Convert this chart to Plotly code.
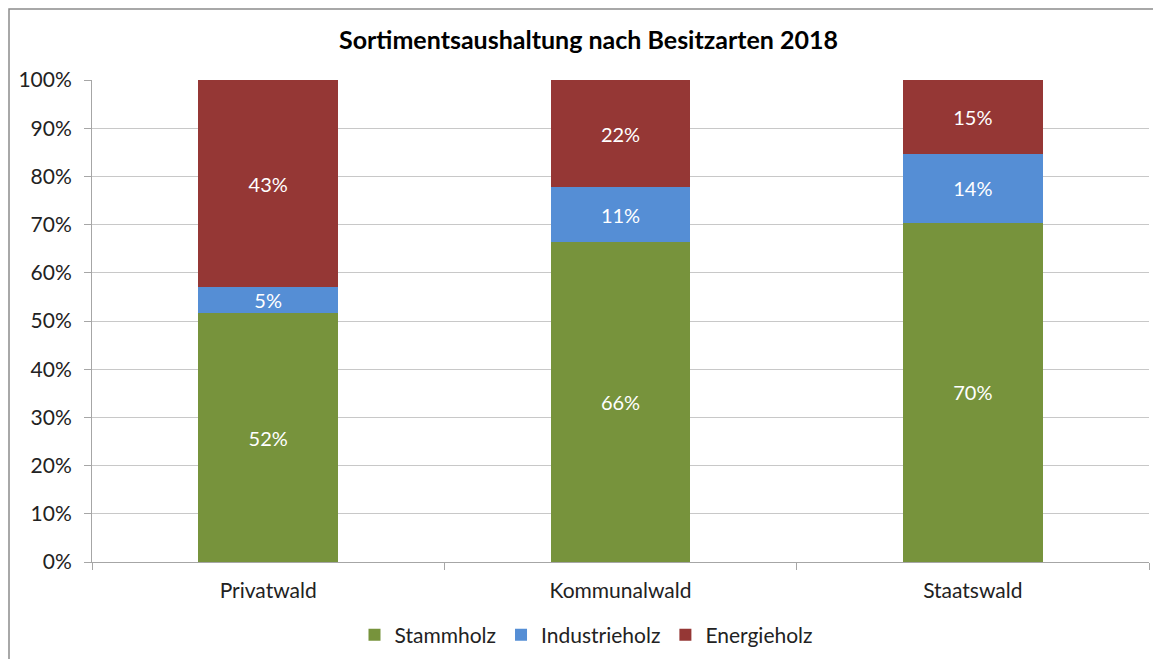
import plotly.graph_objects as go

categories = ["Privatwald", "Kommunalwald", "Staatswald"]
stammholz = [51.6, 66.3, 70.4]
industrieholz = [5.4, 11.4, 14.2]
energieholz = [43.0, 22.3, 15.4]
series_names = ["Stammholz", "Industrieholz", "Energieholz"]
colors = ["#77933C", "#558ED5", "#953735"]
y_ticks = list(range(0, 101, 10))
y_ticklabels = [f"{v}%" for v in y_ticks]

FONT = "Lato, Open Sans, sans-serif"

# page has an 8px body margin; figure is sized to fill the remaining window
W, H = 1153, 651
ML, MR, MT, MB = 84, 12, 72, 97
PW, PH = W - ML - MR, H - MT - MB

fig = go.Figure()
for name, vals, col in zip(series_names, [stammholz, industrieholz, energieholz], colors):
    fig.add_trace(go.Bar(
        x=categories, y=vals, name=name,
        marker=dict(color=col, line=dict(width=0)),
        texttemplate="%{y:.0f}%", textposition="inside",
        insidetextanchor="middle", textangle=0,
        textfont=dict(color="white", size=20, family=FONT),
        constraintext="none",
    ))

fig.update_layout(
    barmode="stack",
    bargap=0.603,
    width=W, height=H,
    margin=dict(l=ML, r=MR, t=MT, b=MB, autoexpand=False),
    paper_bgcolor="white", plot_bgcolor="white",
    font=dict(family=FONT, size=21, color="#222222"),
    title=dict(text="<b>Sortimentsaushaltung nach Besitzarten 2018</b>",
               x=0.5 + 4 / W, xanchor="center", xref="container",
               y=1 - 32 / H, yanchor="middle", yref="container",
               font=dict(size=25, color="#000000", family=FONT)),
    legend=dict(orientation="h", x=0.5 + 2 / W, xanchor="center", xref="container",
                y=1 - 627 / H, yanchor="middle", yref="container",
                font=dict(size=21, family=FONT), traceorder="normal",
                itemwidth=30),
    showlegend=True,
)
fig.update_yaxes(
    range=[0, 100], tickvals=y_ticks, ticktext=y_ticklabels,
    showgrid=True, gridcolor="#C8C8C8", gridwidth=1,
    showline=True, linecolor="#A6A6A6", linewidth=1,
    ticks="outside", ticklen=7, tickcolor="#A6A6A6",
    ticklabelstandoff=8, automargin=False,
    zeroline=False, tickfont=dict(size=21, color="#222222"),
)
fig.update_xaxes(
    showline=True, linecolor="#A6A6A6", linewidth=1,
    ticks="outside", ticklen=7, tickcolor="#A6A6A6", tickson="boundaries",
    ticklabelstandoff=10, automargin=False,
    tickfont=dict(size=21, color="#222222"),
)
fig.add_shape(type="rect", xref="paper", yref="paper",
              x0=-(ML - 1) / PW, x1=1.05, y0=-0.4, y1=(PH + MT - 1) / PH,
              line=dict(color="#8C8C8C", width=1.5), fillcolor="rgba(0,0,0,0)", layer="below")

fig.write_html("out.html")
